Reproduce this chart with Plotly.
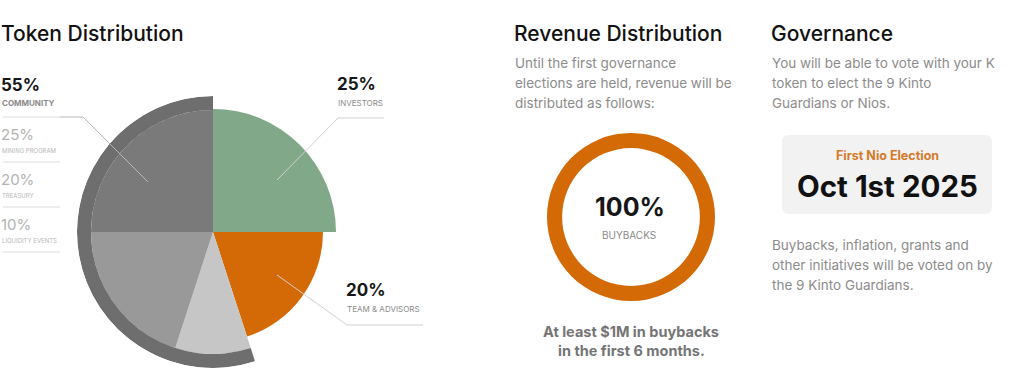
import plotly.graph_objects as go

# ---------------- data ----------------
slice_labels = ["Investors", "Team & Advisors", "Liquidity Events", "Treasury", "Mining Program"]
slice_values = [25, 20, 10, 20, 25]
slice_colors = ["#82a88a", "#d46a06", "#c6c6c6", "#999999", "#7a7a7a"]
slice_radii = [123, 110, 122, 122, 122]

community_value = 55
community_parts = ["Liquidity Events", "Treasury", "Mining Program"]

revenue_labels = ["Buybacks"]
revenue_values = [100]

left_legend = [("55%", "COMMUNITY"), ("25%", "MINING PROGRAM"), ("20%", "TREASURY"), ("10%", "LIQUIDITY EVENTS")]
right_legend = [("25%", "INVESTORS"), ("20%", "TEAM & ADVISORS")]

W, H = 1024, 390
FONT = "Inter"

fig = go.Figure()

# ---------------- token distribution (barpolar) ----------------
cum = 0
thetas, widths = [], []
for v in slice_values:
    thetas.append((cum + v / 2) * 3.6)
    widths.append(v * 3.6)
    cum += v

fig.add_trace(go.Barpolar(
    r=slice_radii, theta=thetas, width=widths,
    marker=dict(color=slice_colors, line=dict(width=0)),
    text=slice_labels, hoverinfo="text", showlegend=False,
))

# community outer ring spanning liquidity + treasury + mining
comm_start = sum(slice_values[:2])
fig.add_trace(go.Barpolar(
    r=[14], base=[122], theta=[(comm_start + community_value / 2) * 3.6],
    width=[community_value * 3.6],
    marker=dict(color="#6e6e6e", line=dict(width=0)),
    hoverinfo="skip", showlegend=False,
))

cx, cy, R = 213, 232, 136
fig.update_layout(polar=dict(
    domain=dict(x=[(cx - R) / W, (cx + R) / W], y=[(H - cy - R) / H, (H - cy + R) / H]),
    radialaxis=dict(range=[0, R], visible=False, showgrid=False),
    angularaxis=dict(rotation=90, direction="clockwise", visible=False, showgrid=False),
    bgcolor="rgba(0,0,0,0)", bargap=0, hole=0,
))

# ---------------- revenue donut ----------------
dx, dy, dr = 631, 217, 84
fig.add_trace(go.Pie(
    values=revenue_values, labels=revenue_labels, hole=0.82,
    marker=dict(colors=["#d46a06"], line=dict(width=0)),
    textinfo="none", hoverinfo="label+percent", sort=False, showlegend=False,
    domain=dict(x=[(dx - dr) / W, (dx + dr) / W], y=[(H - dy - dr) / H, (H - dy + dr) / H]),
))

# ---------------- pixel overlay axes ----------------
fig.update_layout(
    xaxis=dict(range=[0, W], visible=False, fixedrange=True),
    yaxis=dict(range=[H, 0], visible=False, fixedrange=True),
)
fig.add_trace(go.Scatter(x=[0], y=[0], mode="markers", marker=dict(opacity=0), hoverinfo="skip", showlegend=False))

ann = []
def txt(x, y, s, size, color, bold=False, anchor="left", weight=None):
    f = dict(family=FONT, size=size, color=color)
    if weight:
        f["weight"] = weight
    ann.append(dict(x=x, y=y, xref="x", yref="y", xshift=(-3 if anchor == "left" else 0),
                    text=(f"<b>{s}</b>" if bold else s),
                    showarrow=False, xanchor=anchor, yanchor="middle", font=f))

# titles
txt(2, 33, "Token Distribution", 21, "#111111", weight=500)
txt(515, 33, "Revenue Distribution", 21, "#111111", weight=500)
txt(772, 33, "Governance", 21, "#111111", weight=500)

# left legend
ly = [85, 134, 179, 224]
for i, (pct, lab) in enumerate(left_legend):
    if i == 0:
        txt(2, ly[i], pct, 17, "#161616", bold=True)
        txt(3, ly[i] + 18, lab, 8, "#8a8a8a", bold=True)
    else:
        txt(2, ly[i], pct, 15, "#b3b3b3")
        txt(3, ly[i] + 16, lab, 6, "#b8b8b8")

# right legend
txt(338, 84, right_legend[0][0], 17, "#161616", bold=True)
txt(339, 103, right_legend[0][1], 8, "#8a8a8a")
txt(347, 290, right_legend[1][0], 17, "#161616", bold=True)
txt(348, 309, right_legend[1][1], 8, "#8a8a8a")

# revenue text
for i, s in enumerate(["Until the first governance", "elections are held, revenue will be", "distributed as follows:"]):
    txt(516, 63 + 20 * i, s, 13.5, "#8c8c8c")
txt(dx - 1, 207, "100%", 25, "#161616", bold=True, anchor="center")
txt(dx - 2, 235, "BUYBACKS", 10, "#8a8a8a", anchor="center")
txt(dx, 331, "At least $1M in buybacks", 14.5, "#757575", bold=True, anchor="center")
txt(dx, 350, "in the first 6 months.", 14.5, "#757575", bold=True, anchor="center")

# governance text
for i, s in enumerate(["You will be able to vote with your K", "token to elect the 9 Kinto", "Guardians or Nios."]):
    txt(773, 63 + 20 * i, s, 13.5, "#8c8c8c")
txt(887, 155, "First Nio Election", 12.5, "#d57a2a", bold=True, anchor="center")
txt(887, 186, "Oct 1st 2025", 29.5, "#111111", bold=True, anchor="center")
for i, s in enumerate(["Buybacks, inflation, grants and", "other initiatives will be voted on by", "the 9 Kinto Guardians."]):
    txt(773, 245 + 20 * i, s, 13.5, "#8c8c8c")

fig.update_layout(annotations=ann)

# ---------------- shapes ----------------
shapes = []
line_c = "#d0d0d0"
for y in [117, 162, 207, 252]:
    shapes.append(dict(type="line", xref="x", yref="y", x0=3, x1=60, y0=y, y1=y, line=dict(color="#dcdcdc", width=1)))
# leader lines
shapes.append(dict(type="path", xref="x", yref="y", path="M 60 117 L 83 117 L 148 182", line=dict(color="#b8b8b8", width=1)))
shapes.append(dict(type="path", xref="x", yref="y", path="M 277 180 L 338 118 L 384 118", line=dict(color=line_c, width=1)))
shapes.append(dict(type="path", xref="x", yref="y", path="M 277 275 L 347 325 L 423 325", line=dict(color=line_c, width=1)))
# rounded box
x0, x1, y0, y1, rr = 782, 992, 135, 214, 7
p = (f"M {x0+rr} {y0} L {x1-rr} {y0} Q {x1} {y0} {x1} {y0+rr} L {x1} {y1-rr} Q {x1} {y1} {x1-rr} {y1} "
     f"L {x0+rr} {y1} Q {x0} {y1} {x0} {y1-rr} L {x0} {y0+rr} Q {x0} {y0} {x0+rr} {y0} Z")
shapes.append(dict(type="path", xref="x", yref="y", path=p, fillcolor="#f2f2f2", line=dict(width=0), layer="below"))
fig.update_layout(shapes=shapes)

fig.update_layout(width=W, height=H, margin=dict(l=0, r=0, t=0, b=0),
                  paper_bgcolor="white", plot_bgcolor="rgba(0,0,0,0)")

fig.write_html("out.html")
